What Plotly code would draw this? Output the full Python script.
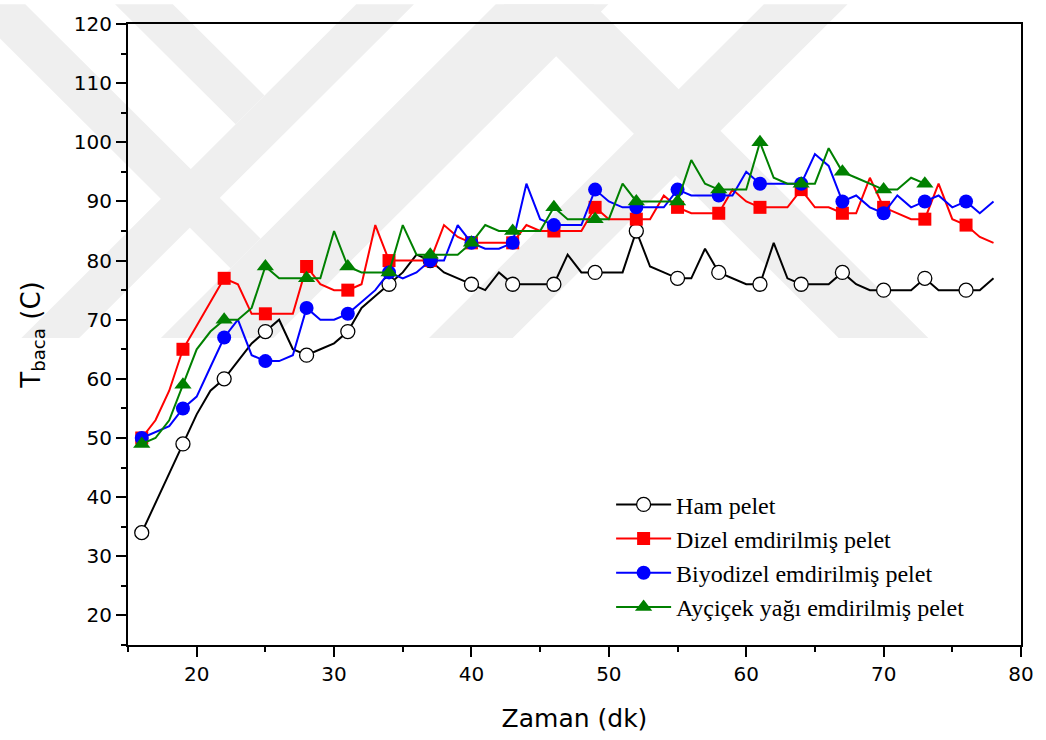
import plotly.graph_objects as go

# Zaman (dk) - one reading per minute
minutes = list(range(16, 79))
minutes_aycicek = list(range(16, 74))

# Baca gazı sıcaklığı (C)
ham = [34, 39, 44, 49, 54, 58, 60, 63, 66, 68, 70, 65, 64, 65, 66, 68, 72, 74, 76, 78,
       81, 80, 78, 77, 76, 75, 78, 76, 76, 76, 76, 81, 78, 78, 78, 78, 85, 79, 78, 77,
       77, 82, 78, 77, 76, 76, 83, 77, 76, 76, 76, 78, 76, 75, 75, 75, 75, 77, 75, 75,
       75, 75, 77]
dizel = [50, 53, 58, 65, 69, 73, 77, 76, 71, 71, 71, 71, 79, 76, 75, 75, 76, 86, 80, 80,
         80, 80, 86, 84, 83, 83, 83, 83, 86, 85, 85, 85, 85, 89, 87, 87, 87, 87, 91, 89,
         88, 88, 88, 92, 90, 89, 89, 89, 92, 89, 89, 88, 88, 94, 89, 88, 87, 87, 93, 87,
         86, 84, 83]
biyodizel = [50, 51, 52, 55, 57, 62, 67, 70, 64, 63, 63, 64, 72, 70, 70, 71, 73, 75, 78, 77,
             78, 80, 80, 86, 83, 82, 82, 83, 93, 87, 86, 86, 86, 92, 90, 89, 89, 89, 89, 92,
             91, 91, 91, 91, 95, 93, 93, 93, 93, 98, 96, 90, 91, 89, 88, 91, 89, 90, 91, 89,
             90, 88, 90]
aycicek = [49, 50, 53, 59, 65, 68, 70, 70, 72, 79, 77, 77, 77, 77, 85, 79, 78, 78, 78, 86,
           81, 81, 81, 81, 83, 86, 85, 85, 85, 85, 89, 87, 87, 87, 87, 93, 90, 90, 90, 90,
           97, 93, 92, 92, 92, 100, 94, 93, 93, 93, 99, 95, 94, 93, 92, 92, 94, 93]

MARKER_EVERY = 3

series = [
    dict(name="Ham pelet", x=minutes, y=ham, color="#000000",
         symbol="circle", fill="#ffffff", size=14, edge=1.3),
    dict(name="Dizel emdirilmiş pelet", x=minutes, y=dizel, color="#ff0000",
         symbol="square", fill="#ff0000", size=13, edge=0),
    dict(name="Biyodizel emdirilmiş pelet", x=minutes, y=biyodizel, color="#0000ff",
         symbol="circle", fill="#0000ff", size=14, edge=0),
    dict(name="Ayçiçek yağı emdirilmiş pelet", x=minutes_aycicek, y=aycicek, color="#008000",
         symbol="triangle-up", fill="#008000", size=15, edge=0),
]

fig = go.Figure()

for s in series:
    fig.add_trace(go.Scatter(
        x=s["x"], y=s["y"], mode="lines", showlegend=False, hoverinfo="skip",
        line=dict(color=s["color"], width=2),
    ))
    fig.add_trace(go.Scatter(
        x=s["x"][::MARKER_EVERY], y=s["y"][::MARKER_EVERY], mode="markers",
        showlegend=False, name=s["name"],
        marker=dict(symbol=s["symbol"], size=s["size"], color=s["fill"],
                    line=dict(color=s["color"], width=s["edge"])),
    ))

# legend entries (line + marker sample)
for s in series:
    fig.add_trace(go.Scatter(
        x=[None], y=[None], mode="lines+markers", name=s["name"],
        line=dict(color=s["color"], width=2),
        marker=dict(symbol=s["symbol"], size=s["size"], color=s["fill"],
                    line=dict(color=s["color"], width=s["edge"])),
    ))

# light grey emblem in the background (pixel geometry -> paper coords)
L, R, T, B = 128, 1024, 20, 645


def to_paper(pts):
    return [((px - L) / (R - L), (B - py) / (B - T)) for px, py in pts]


emblem = [
    [(357, 0), (415, 0), (79, 336), (21, 336)],
    [(115, 0), (173, 0), (265, 92), (236, 121)],
    [(497, 0), (610, 0), (274, 336), (161, 336)],
    [(-35, 0), (25, 0), (261, 236), (231, 266)],
    [(505, 0), (595, 0), (931, 336), (841, 336)],
    [(766, 0), (850, 0), (514, 336), (430, 336)],
]
for poly in emblem:
    p = to_paper(poly)
    path = "M " + " L ".join(f"{x:.4f},{y:.4f}" for x, y in p) + " Z"
    fig.add_shape(type="path", path=path, xref="paper", yref="paper",
                  fillcolor="#efefef", line=dict(width=0), layer="below")

tick_font = dict(family="DejaVu Sans", size=20, color="#000000")

axis_common = dict(
    showline=True, linecolor="#000000", linewidth=2, mirror=True,
    ticks="outside", ticklen=10, tickwidth=2, tickcolor="#000000",
    showgrid=False, zeroline=False, tickfont=tick_font,
)

fig.update_xaxes(
    range=[15, 80], tick0=0, dtick=10,
    minor=dict(dtick=5, ticks="outside", ticklen=5, tickwidth=2, tickcolor="#000000"),
    title=dict(text="Zaman (dk)", font=dict(family="DejaVu Sans", size=25, color="#000000"),
               standoff=24),
    **axis_common,
)
fig.update_yaxes(
    range=[15, 120], tick0=0, dtick=10,
    minor=dict(dtick=5, ticks="outside", ticklen=5, tickwidth=2, tickcolor="#000000"),
    title=dict(text="T<sub>baca</sub> (C)",
               font=dict(family="DejaVu Sans", size=26, color="#000000"), standoff=26),
    **axis_common,
)

fig.update_layout(
    width=1046, height=740,
    margin=dict(l=L, r=1046 - R, t=T, b=740 - B),
    paper_bgcolor="#ffffff", plot_bgcolor="rgba(0,0,0,0)",
    showlegend=True,
    legend=dict(x=0.541, y=0.262, xanchor="left", yanchor="top",
                bgcolor="rgba(0,0,0,0)", borderwidth=0,
                font=dict(family="Liberation Serif", size=24, color="#000000"),
                itemwidth=55, tracegroupgap=0),
)

fig.write_html("out.html")
